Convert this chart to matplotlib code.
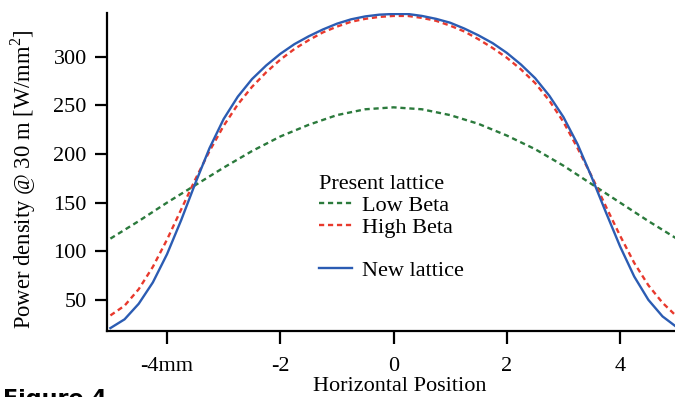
import matplotlib
matplotlib.use("Agg")
import matplotlib.pyplot as plt
from matplotlib.lines import Line2D

# Daten
x_fine = [-5, -4.75, -4.5, -4.25, -4, -3.75, -3.5, -3.25, -3, -2.75, -2.5, -2.25, -2,
          -1.75, -1.5, -1.25, -1, -0.75, -0.5, -0.25, 0, 0.25, 0.5, 0.75, 1, 1.25,
          1.5, 1.75, 2, 2.25, 2.5, 2.75, 3, 3.25, 3.5, 3.75, 4, 4.25, 4.5, 4.75, 5]
new_lattice = [21, 30, 46, 68, 97, 132, 170, 206, 236, 259, 277, 291, 303,
               313, 321, 328, 334, 338.5, 341.5, 343.3, 344, 344, 342, 339, 335, 329,
               322, 314, 304, 292, 278, 260, 238, 210, 176, 140, 105, 74, 50, 33, 22]
high_beta = [34, 44, 61, 84, 112, 143, 174, 203, 229, 251, 269, 284, 297,
             308, 317, 325, 331, 336, 339, 341, 342, 342, 340, 337, 332, 326,
             318, 309, 299, 287, 273, 255, 233, 206, 177, 146, 116, 88, 65, 47, 33]

x_low = [-5, -4.5, -4, -3.5, -3, -2.5, -2, -1.5, -1, -0.5, 0, 0.5, 1, 1.5, 2, 2.5, 3, 3.5, 4, 4.5, 5]
low_beta = [113, 131, 150, 168, 186, 203, 218, 230, 240, 246, 248, 246, 240, 231, 219, 205, 188, 169, 150, 131, 113]

xtick_pos = [-4, -2, 0, 2, 4]
xtick_lab = ["-4mm", "-2", "0", "2", "4"]
ytick_pos = [50, 100, 150, 200, 250, 300]

green = "#2b7a3c"
red = "#e8392d"
blue = "#2b5cb3"
dash = (0, (2.2, 1.6))

plt.rcParams["font.family"] = ["Liberation Serif", "DejaVu Serif"]
plt.rcParams["mathtext.fontset"] = "custom"
plt.rcParams["mathtext.rm"] = "Liberation Serif"

fig = plt.figure(figsize=(6.75, 3.97), dpi=100)
ax = fig.add_axes([107 / 675, 66 / 397, 568 / 675, 318 / 397])

ax.plot(x_low, low_beta, color=green, lw=1.7, ls=dash)
ax.plot(x_fine, high_beta, color=red, lw=1.7, ls=dash)
ax.plot(x_fine, new_lattice, color=blue, lw=1.7)

ax.set_xlim(-5.06, 4.97)
ax.set_ylim(18, 345)

ax.spines["top"].set_visible(False)
ax.spines["right"].set_visible(False)
ax.spines["left"].set_linewidth(1.6)
ax.spines["bottom"].set_linewidth(1.6)

ax.set_xticks(xtick_pos)
ax.set_xticklabels(xtick_lab)
ax.set_yticks(ytick_pos)
ax.tick_params(axis="x", direction="out", length=9, width=1.6, pad=9.5, labelsize=16)
ax.tick_params(axis="y", direction="out", length=9, width=1.6, pad=5.5, labelsize=16)

ax.set_ylabel(r"Power density @ 30 m [W/mm$^\mathrm{2}$]", fontsize=16.3)
ax.yaxis.set_label_coords(-0.122, 0.476)
ax.set_xlabel("Horizontal Position", fontsize=16)
ax.xaxis.set_label_coords(0.516, -0.146)

# Legende
handles = [
    Line2D([], [], color=green, lw=1.7, ls=dash),
    Line2D([], [], color=red, lw=1.7, ls=dash),
    Line2D([], [], color="none"),
    Line2D([], [], color=blue, lw=1.7),
]
labels = ["Low Beta", "High Beta", " ", "New lattice"]
leg = ax.legend(handles, labels, title="Present lattice", loc="upper left",
                bbox_to_anchor=(0.373, 0.49), frameon=False, fontsize=16,
                title_fontsize=16, handlelength=1.5, handletextpad=0.45,
                labelspacing=0.05, borderpad=0, borderaxespad=0, alignment="left")

# Beschriftung unten links (im Original abgeschnitten)
fig.text(0.005, 0.02, "Figure 4", fontsize=16, fontweight="bold",
         family="DejaVu Sans", va="top", ha="left")

fig.savefig("out.png", dpi=100)
